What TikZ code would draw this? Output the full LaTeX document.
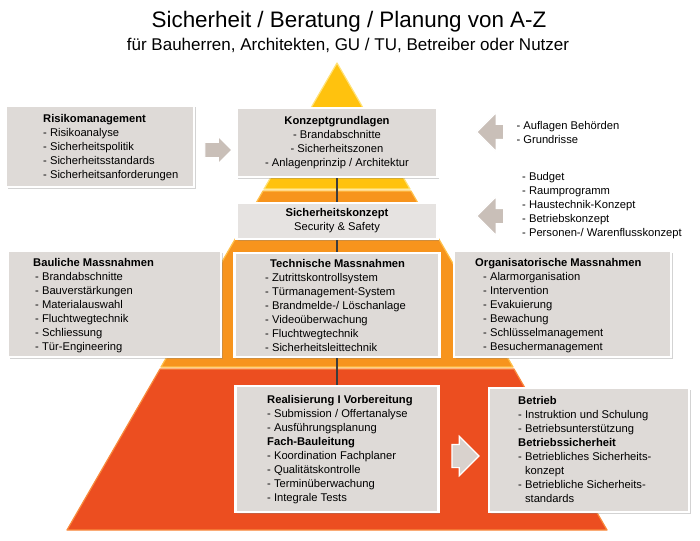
\documentclass[tikz,border=0pt]{standalone}
\usepackage{fontspec}
\setmainfont{Liberation Sans}
\usetikzlibrary{positioning, shapes.arrows, shadows, backgrounds, calc}
\definecolor{topCol}{HTML}{FFC20E}
\definecolor{topEdgeCol}{HTML}{FFE27A}
\definecolor{midCol}{HTML}{F7941D}
\definecolor{midEdgeCol}{HTML}{FFC04A}
\definecolor{baseCol}{HTML}{EC4E20}
\definecolor{baseEdgeCol}{HTML}{F98A3C}
\definecolor{panelCol}{HTML}{DEDAD7}
\definecolor{arrowCol}{HTML}{C9BFB8}
\definecolor{lineCol}{HTML}{3C3C3C}

\begin{document}
\begin{tikzpicture}[x=1pt, y=-1pt,
    % Node styles
    panel/.style={
        rectangle,
        draw=white,
        line width=2.5pt,
        fill=panelCol,
        inner sep=0pt,
        drop shadow={shadow xshift=1.5pt, shadow yshift=-1.5pt, opacity=0.35}
    },
    list/.style={
        font=\fontsize{11.2}{14}\selectfont,
        align=left,
        anchor=west,
        inner sep=0pt
    },
    centrelist/.style={
        font=\fontsize{11.2}{14}\selectfont,
        align=center
    },
    tier/.style={
        fill=#1Col,
        draw=#1EdgeCol,
        line width=1.2pt,
        line join=round
    },
    flow/.style={
        single arrow,
        fill=arrowCol,
        draw=white,
        line width=1.2pt,
        inner xsep=0pt,
        inner ysep=7pt,
        minimum height=27pt
    },
    link/.style={
        draw=lineCol,
        line width=2pt
    }
]
    \useasboundingbox (0,0) rectangle (700,540);

    % ==== TITLE ====
    \node[font=\fontsize{22.4}{26}\selectfont] (title) at (349,22) {Sicherheit / Beratung / Planung von A-Z};
    \node[font=\fontsize{17}{20}\selectfont] (subtitle) at (348,45) {für Bauherren, Architekten, GU / TU, Betreiber oder Nutzer};

    % ==== PYRAMID ====
    \path[tier=top] (337,63) -- (264,189) -- (410,189) -- cycle;
    \path[tier=mid] (263,191) -- (411,191) -- (513,367) -- (161,367) -- cycle;
    \path[tier=base] (160,369) -- (514,369) -- (607,530) -- (67,530) -- cycle;

    % ==== TOP LEVEL ====
    \node[panel, minimum width=188, minimum height=81] (riskbox) at (100,146.5) {};
    \node[list] (risk) at (43,148) {\textbf{Risikomanagement}\\- Risikoanalyse\\- Sicherheitspolitik\\- Sicherheitsstandards\\- Sicherheitsanforderungen};
    \node[flow, single arrow head extend=6pt, right=9pt of riskbox, yshift=-3.5pt] (riskarrow) {};

    \node[panel, centrelist, minimum width=201, minimum height=69] (konzept) at (337,142.5) {\textbf{Konzeptgrundlagen}\\- Brandabschnitte\\- Sicherheitszonen\\- Anlagenprinzip / Architektur};
    \node[panel, centrelist, minimum width=201, minimum height=36, fill=panelCol!75] (sikon) at (337,221) {\textbf{Sicherheitskonzept}\\Security \& Safety};

    \node[flow, single arrow head extend=12pt, shape border rotate=180] (authArrow) at (494,132) {};
    \node[list, right=12pt of authArrow] (auth) {- Auflagen Behörden\\- Grundrisse};
    \node[flow, single arrow head extend=12pt, shape border rotate=180] (budgetArrow) at (494,216) {};
    \node[list] (budget) at (522,205.5) {- Budget\\- Raumprogramm\\- Haustechnik-Konzept\\- Betriebskonzept\\- Personen-/ Warenflusskonzept};

    % ==== MEASURES ====
    \node[panel, minimum width=213, minimum height=106] (baulich) at (114.5,304) {};
    \node[list] (bauText) at (33,305.5) {\textbf{Bauliche Massnahmen}\\\hspace*{2pt}- Brandabschnitte\\\hspace*{2pt}- Bauverstärkungen\\\hspace*{2pt}- Materialauswahl\\\hspace*{2pt}- Fluchtwegtechnik\\\hspace*{2pt}- Schliessung\\\hspace*{2pt}- Tür-Engineering};

    \node[panel, minimum width=205, minimum height=104] (technisch) at (337,305) {};
    \node[list] (techText) at (265,305.5) {\hspace*{5pt}\textbf{Technische Massnahmen}\\- Zutrittskontrollsystem\\- Türmanagement-System\\- Brandmelde-/ Löschanlage\\- Videoüberwachung\\- Fluchtwegtechnik\\- Sicherheitsleittechnik};

    \node[panel, minimum width=217, minimum height=106] (organisat) at (562.5,304) {};
    \node[list] (orgText) at (475,305.5) {\textbf{Organisatorische Massnahmen}\\\hspace*{8pt}- Alarmorganisation\\\hspace*{8pt}- Intervention\\\hspace*{8pt}- Evakuierung\\\hspace*{8pt}- Bewachung\\\hspace*{8pt}- Schlüsselmanagement\\\hspace*{8pt}- Besuchermanagement};

    % ==== REALISATION & OPERATION ====
    \node[panel, minimum width=203, minimum height=126] (realis) at (337,449) {};
    \node[list] (realText) at (267,449.5) {\textbf{Realisierung I Vorbereitung}\\- Submission / Offertanalyse\\- Ausführungsplanung\\\textbf{Fach-Bauleitung}\\- Koordination Fachplaner\\- Qualitätskontrolle\\- Terminüberwachung\\- Integrale Tests};

    \node[panel, minimum width=200, minimum height=124] (betrieb) at (589,450) {};
    \node[list] (betrText) at (518,449.5) {\textbf{Betrieb}\\- Instruktion und Schulung\\- Betriebsunterstützung\\\textbf{Betriebssicherheit}\\- Betriebliches Sicherheits-\\\phantom{- }konzept\\- Betriebliche Sicherheits-\\\phantom{- }standards};
    \node[flow, inner ysep=11pt, single arrow head extend=8pt, fill=arrowCol!70, left=8pt of betrieb, yshift=-6pt] (betrArrow) {};

    % ==== CONNECTIONS ====
    \draw[link] (konzept.south) -- (sikon.north);
    \draw[link] (sikon.south) -- (technisch.north);
    \draw[link] (technisch.south) -- (realis.north);

\end{tikzpicture}
\end{document}
